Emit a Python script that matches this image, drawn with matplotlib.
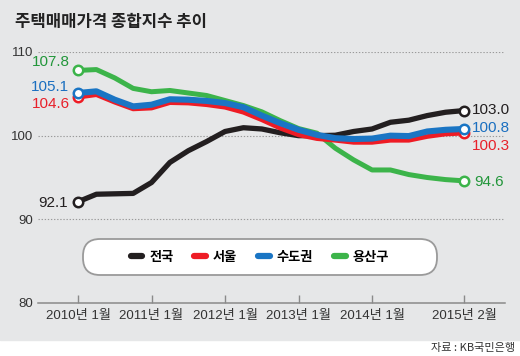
import matplotlib
matplotlib.use("Agg")
import matplotlib.pyplot as plt
from matplotlib.lines import Line2D
from matplotlib.patches import Rectangle, FancyBboxPatch
from matplotlib.transforms import IdentityTransform

# months counted from 2010-01 on the chart's own time scale
months = [0, 3, 6, 9, 12, 15, 18, 21, 24, 27, 30, 33, 36, 39, 42, 45, 48, 51, 54, 57, 60, 63]

nation = [92.1, 93.0, 93.05, 93.1, 94.4, 96.8, 98.2, 99.3, 100.5, 100.95, 100.8, 100.35,
          100.0, 100.0, 100.05, 100.5, 100.8, 101.6, 101.85, 102.4, 102.8, 103.0]
seoul = [104.6, 104.9, 104.0, 103.2, 103.3, 103.95, 103.9, 103.7, 103.4, 102.8, 101.9, 100.9,
         100.1, 99.65, 99.45, 99.2, 99.2, 99.45, 99.45, 99.9, 100.2, 100.3]
capital = [105.1, 105.3, 104.3, 103.5, 103.7, 104.35, 104.3, 104.15, 103.9, 103.4, 102.4, 101.5,
           100.7, 100.1, 99.7, 99.6, 99.65, 100.0, 99.95, 100.5, 100.7, 100.8]
yongsan = [107.8, 107.9, 106.9, 105.65, 105.25, 105.4, 105.1, 104.8, 104.2, 103.6, 102.85, 101.8,
           100.85, 100.3, 98.5, 97.1, 95.9, 95.9, 95.35, 95.0, 94.75, 94.6]

names = ["전국", "서울", "수도권", "용산구"]
tick_pos = [0, 12, 24, 36, 48, 63]
tick_labels = ["2010년 1월", "2011년 1월", "2012년 1월", "2013년 1월", "2014년 1월", "2015년 2월"]
y_ticks = [80, 90, 100, 110]

num_font = ["Liberation Sans Narrow", "Liberation Sans", "Noto Sans CJK KR"]
kr_font = ["Noto Sans CJK KR", "DejaVu Sans"]

fig = plt.figure(figsize=(5.2, 3.56), dpi=100)
fig.patch.set_facecolor("white")
fig.add_artist(Rectangle((0, 16 / 356), 1, 1, transform=fig.transFigure,
                         color="#e6e7e8", zorder=-3))

ax = fig.add_axes([38 / 520, 53 / 356, 467 / 520, 251 / 356])
ax.set_facecolor("none")
ax.set_xlim(-6.53, 69.7)
ax.set_ylim(80, 110)

for v in y_ticks[1:]:
    ax.axhline(v, color="#9a9a9a", lw=0.8, ls=(0, (1.2, 1.6)), zorder=1)
for s in ["top", "right", "left"]:
    ax.spines[s].set_visible(False)
ax.spines["bottom"].set_color("#8a8a8a")
ax.spines["bottom"].set_linewidth(1.1)

ax.set_xticks(tick_pos)
ax.set_xticklabels(tick_labels, family=num_font, fontsize=9.5, color="#333333")
ax.tick_params(axis="x", direction="in", length=6, width=1, color="#8a8a8a", pad=5)
ax.set_yticks(y_ticks)
ax.set_yticklabels([str(v) for v in y_ticks], family=num_font, fontsize=9.5, color="#333333")
ax.tick_params(axis="y", length=0, pad=3.5)

series = [
    (nation, "#231f20", "#231f20", 3.8),
    (yongsan, "#3cb44a", "#22963a", 3.6),
    (seoul, "#ee1c25", "#e8202a", 3.4),
    (capital, "#1a75c4", "#1a6fc0", 4.4),
]
for vals, col, tcol, lw in series:
    ax.plot(months, vals, color=col, lw=lw, solid_joinstyle="round",
            solid_capstyle="round", zorder=3)
    ax.plot([months[0], months[-1]], [vals[0], vals[-1]], "o", ms=6.8,
            mfc="white", mec=col, mew=1.8, zorder=4)

# value labels at both ends: (series, colour, index, offset px, alignment)
labels = [
    (yongsan, "#22963a", 0, (-8, 8), "right"),
    (capital, "#1a6fc0", 0, (-9, 6), "right"),
    (seoul, "#e8202a", 0, (-8, -7), "right"),
    (nation, "#231f20", 0, (-10, -1), "right"),
    (nation, "#231f20", -1, (8, 1), "left"),
    (capital, "#1a6fc0", -1, (8, 1), "left"),
    (seoul, "#e8202a", -1, (8, -13), "left"),
    (yongsan, "#22963a", -1, (10, -1), "left"),
]
for vals, col, i, off, ha in labels:
    ax.annotate(f"{vals[i]:.1f}", (months[i], vals[i]), xytext=off,
                textcoords="offset pixels", ha=ha, va="center",
                family=num_font, fontsize=11, color=col, zorder=5)

# legend box with big rounded ends
fig.add_artist(FancyBboxPatch((83, 356 - 275), 354, 36,
                              boxstyle="round,pad=0,rounding_size=17",
                              transform=IdentityTransform(), fc="white",
                              ec="#9a9a9a", lw=1.3, zorder=-1))
handles = [Line2D([], [], color=c, lw=4.5, solid_capstyle="round")
           for c in ["#231f20", "#ee1c25", "#1a75c4", "#3cb44a"]]
ax.legend(handles, names, loc="center", bbox_to_anchor=(0.475, 0.183), ncol=4,
          frameon=False, handlelength=0.9, handletextpad=0.5, columnspacing=1.6,
          borderpad=0, prop={"family": kr_font, "size": 9.5, "weight": "bold"})

fig.text(15 / 520, 1 - 22 / 356, "주택매매가격 종합지수 추이", family=kr_font,
         fontsize=12, weight="heavy", color="#222222", va="center", ha="left")
fig.text(515 / 520, 1 - 348 / 356, "자료 : KB국민은행", family=kr_font,
         fontsize=8, color="#333333", va="center", ha="right")

fig.savefig("out.png", dpi=100)
